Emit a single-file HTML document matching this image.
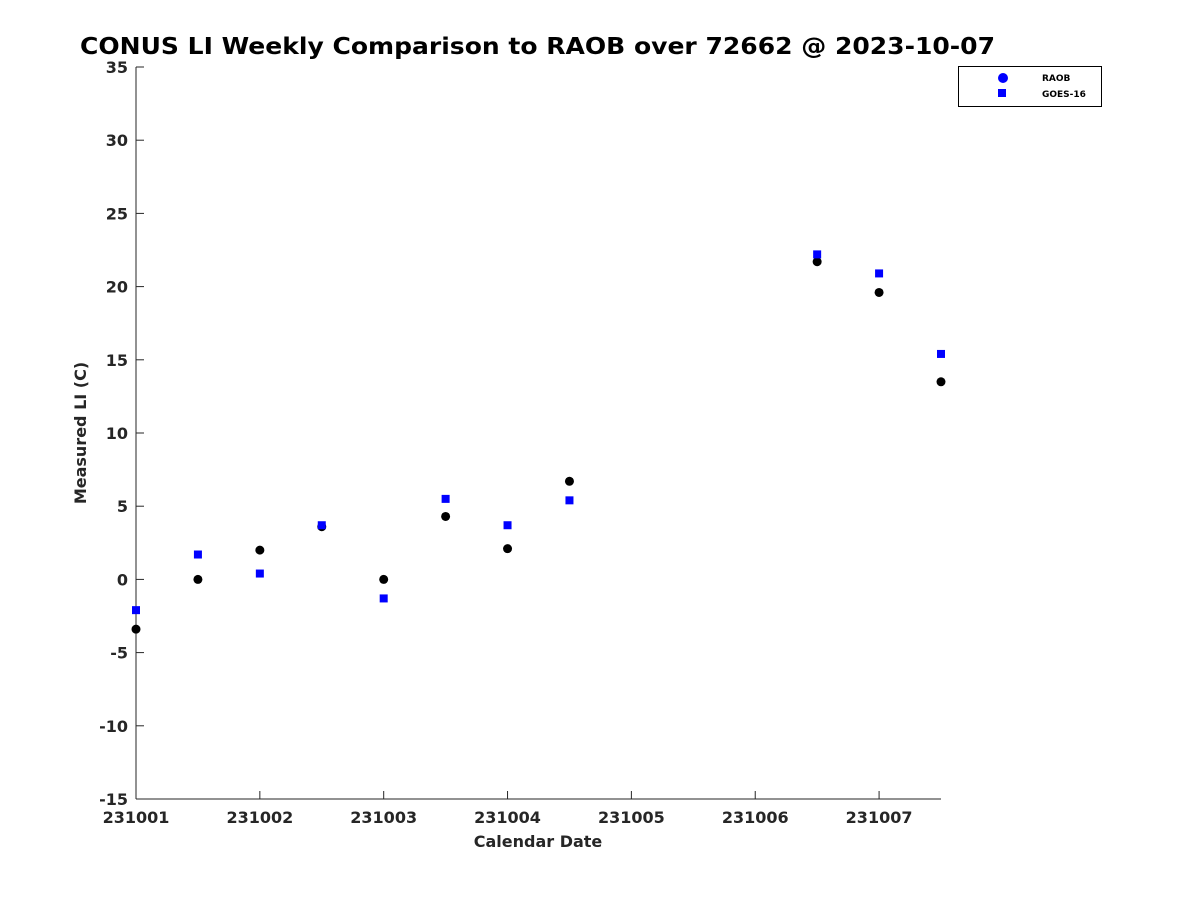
<!DOCTYPE html>
<html><head><meta charset="utf-8"><style>
body{margin:0;background:#fff;}
svg text{font-family:"DejaVu Sans","Liberation Sans",sans-serif;font-weight:bold;fill:#262626;}
</style></head><body>
<svg id="chart" width="1200" height="900">
<text x="80" y="54" font-size="23" textLength="915" lengthAdjust="spacingAndGlyphs" style="fill:#000">CONUS LI Weekly Comparison to RAOB over 72662 @ 2023-10-07</text>
<g id="axes"></g>
<g id="marks"></g>
<g>
<rect x="958.5" y="66.5" width="143" height="40" fill="#fff" stroke="#000" stroke-width="1"/>
<circle cx="1003" cy="78" r="5" fill="#0000ff"/>
<text x="1042" y="81" font-size="9" style="fill:#000">RAOB</text>
<rect x="998" y="89" width="8" height="8" fill="#0000ff"/>
<text x="1042" y="97" font-size="9" style="fill:#000">GOES-16</text>
</g>
</svg>
<script>
const dayOffsets=[0,0.5,1,1.5,2,2.5,3,3.5,5.5,6,6.5];
const raobValues=[-3.4,0,2,3.6,0,4.3,2.1,6.7,21.7,19.6,13.5];
const goesValues=[-2.1,1.7,0.4,3.7,-1.3,5.5,3.7,5.4,22.2,20.9,15.4];
const xTickLabels=["231001","231002","231003","231004","231005","231006","231007"];
const yTicks=[-15,-10,-5,0,5,10,15,20,25,30,35];
const X0=136,X1=941,Y0=799,Y1=67;
const xs=d=>X0+(d/6.5)*(X1-X0);
const ys=v=>Y0-(v+15)/50*(Y0-Y1);
const NS="http://www.w3.org/2000/svg";
const axes=document.getElementById('axes'),marks=document.getElementById('marks');
function mk(tag,attrs,parent){const e=document.createElementNS(NS,tag);for(const k in attrs)e.setAttribute(k,attrs[k]);parent.appendChild(e);return e;}
const yAxis=mk('line',{x1:X0,y1:Y1,x2:X0,y2:Y0,stroke:'#262626','stroke-width':1},axes);


const xAxis=mk('line',{x1:X0,y1:Y0,x2:X1,y2:Y0,stroke:'#262626','stroke-width':1},axes);


yTicks.forEach(v=>{const y=ys(v);
mk('line',{x1:X0,y1:y,x2:X0+8,y2:y,stroke:'#262626'},axes);
const t=mk('text',{x:X0-8,y:y+6,'text-anchor':'end','font-size':16},axes);t.textContent=v;

});
xTickLabels.forEach((l,i)=>{const x=xs(i);
mk('line',{x1:x,y1:Y0,x2:x,y2:Y0-8,stroke:'#262626'},axes);
const t=mk('text',{x:x,y:Y0+24,'text-anchor':'middle','font-size':16},axes);t.textContent=l;

});
const xt=mk('text',{x:538,y:847,'text-anchor':'middle','font-size':16},axes);xt.textContent='Calendar Date';


const yt=mk('text',{x:0,y:0,'text-anchor':'middle','font-size':16,transform:'translate(86,433) rotate(-90)'},axes);yt.textContent='Measured LI (C)';


dayOffsets.forEach((d,i)=>{
const c=mk('circle',{cx:xs(d),cy:ys(raobValues[i]),r:4.5,fill:'#000'},marks);


const s=mk('rect',{x:xs(d)-4,y:ys(goesValues[i])-4,width:8,height:8,fill:'#0000ff'},marks);

});
</script>
</body></html>
